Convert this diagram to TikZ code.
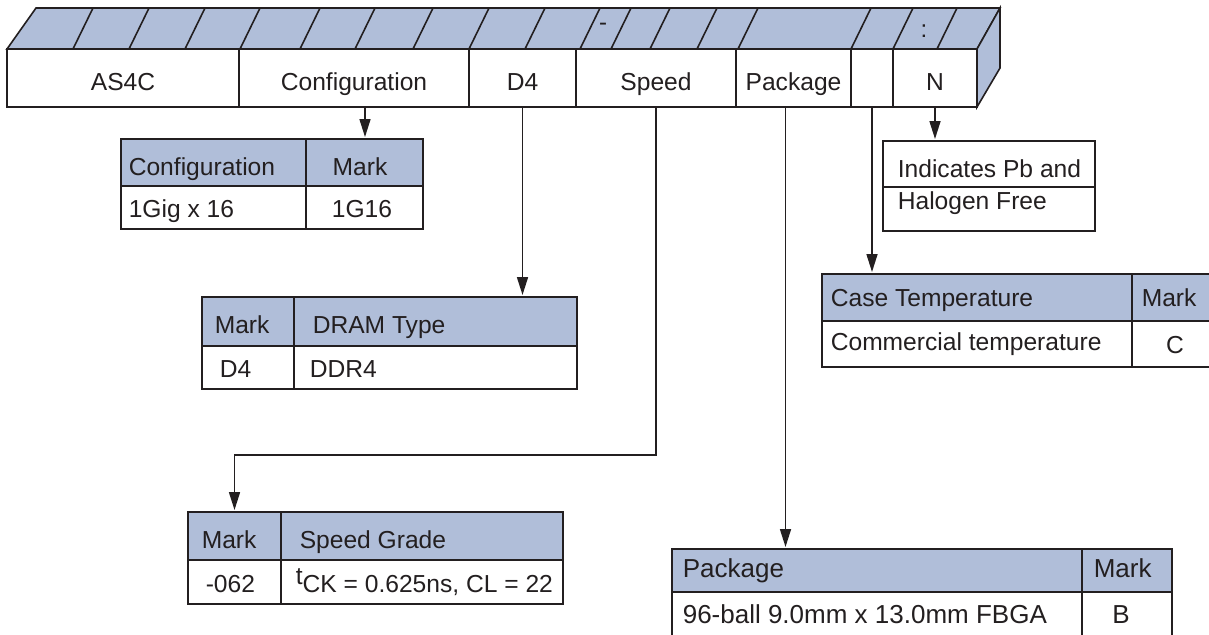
\documentclass[tikz,border=0pt]{standalone}
\usepackage{fontspec}
\setmainfont{Liberation Sans}
\usetikzlibrary{positioning,arrows.meta}
\definecolor{hdblue}{RGB}{176,190,217}
\definecolor{ink}{RGB}{35,31,32}

\begin{document}
\begin{tikzpicture}[x=0.5pt, y=-0.5pt, line width=0.8pt, color=ink,
  cell/.style = {draw, fill=white, outer sep=0pt, inner sep=0pt, anchor=north west},
  hcell/.style = {cell, fill=hdblue},
  bcell/.style = {draw, fill=white, outer sep=0pt, inner sep=0pt, minimum height=29pt,
                  text height=12pt, text depth=0pt, font=\fontsize{12.3}{14}\selectfont},
  txt/.style = {anchor=base west, inner sep=0pt, font=\fontsize{12.3}{14}\selectfont},
  ctxt/.style = {txt, anchor=base},
  bigtxt/.style = {txt, font=\fontsize{13}{15}\selectfont},
  arr/.style = {-{Triangle[length=9pt,width=5.5pt]}, shorten >=1pt}]
\useasboundingbox (0,0) rectangle (1209,634);
\clip (0,0) rectangle (1209,634);

% part number bar
\node[bcell, minimum width=116pt, anchor=north west] (as4c) at (7,49) {AS4C};
\node[bcell, minimum width=115pt, right=0pt of as4c] (conf) {Configuration};
\node[bcell, minimum width=53.5pt, right=0pt of conf] (dram) {D4};
\node[bcell, minimum width=80pt, right=0pt of dram] (speed) {Speed};
\node[bcell, minimum width=57.5pt, right=0pt of speed] (pkg) {Package};
\node[bcell, minimum width=21pt, right=0pt of pkg] (temp) {};
\node[bcell, minimum width=42pt, right=0pt of temp] (hf) {N};
\draw[fill=hdblue] (as4c.north west) -- (36,8) -- (1000,8) -- (hf.north east) -- cycle;
\draw[fill=hdblue] (hf.north east) -- (1000,8) -- (1000,68) -- (hf.south east) -- cycle;
\foreach \x in {73,129,185,240,300,355,413,469,525,580,611,650,697,738,851,893,937}
  \draw (\x,49) -- ++(20,-41);
\node[font=\fontsize{12}{14}\selectfont, inner sep=0pt] (dash) at (603,27) {-};
\node[font=\fontsize{12}{14}\selectfont, inner sep=0pt] (colon) at (924,31) {:};

% configuration table
\node[hcell, minimum width=92.5pt, minimum height=23.5pt] (cfgA) at (121,139) {};
\node[hcell, minimum width=58.5pt, minimum height=23.5pt, right=0pt of cfgA] (cfgB) {};
\node[cell, minimum width=92.5pt, minimum height=21.5pt, below=0pt of cfgA] (cfgC) {};
\node[cell, minimum width=58.5pt, minimum height=21.5pt, right=0pt of cfgC] (cfgD) {};
\node[txt] (cfgAt) at (128,175) {Configuration};
\node[ctxt] (cfgBt) at (360,175) {Mark};
\node[txt] (cfgCt) at (128,217) {1Gig x 16};
\node[ctxt] (cfgDt) at (362,217) {1G16};

% dram table
\node[hcell, minimum width=46pt, minimum height=24.5pt] (dramA) at (202,297) {};
\node[hcell, minimum width=141.5pt, minimum height=24.5pt, right=0pt of dramA] (dramB) {};
\node[cell, minimum width=46pt, minimum height=21.5pt, below=0pt of dramA] (dramC) {};
\node[cell, minimum width=141.5pt, minimum height=21.5pt, right=0pt of dramC] (dramD) {};
\node[txt] (dramAt) at (214,333) {Mark};
\node[txt] (dramBt) at (312,333) {DRAM Type};
\node[txt] (dramCt) at (219,377) {D4};
\node[txt] (dramDt) at (309,377) {DDR4};

% speed table
\node[hcell, minimum width=46.5pt, minimum height=24pt] (spdA) at (188,512) {};
\node[hcell, minimum width=141pt, minimum height=24pt, right=0pt of spdA] (spdB) {};
\node[cell, minimum width=46.5pt, minimum height=22pt, below=0pt of spdA] (spdC) {};
\node[cell, minimum width=141pt, minimum height=22pt, right=0pt of spdC] (spdD) {};
\node[txt] (spdAt) at (201,548) {Mark};
\node[txt] (spdBt) at (299,548) {Speed Grade};
\node[txt] (spdCt) at (205,592) {-062};
\node[txt] (spdDt) at (295,592) {\raisebox{4pt}{t}CK = 0.625ns, CL = 22};

% pb / halogen box
\node[cell, minimum width=106pt, minimum height=23pt] (pbA) at (883,141) {};
\node[cell, minimum width=106pt, minimum height=22pt, below=0pt of pbA] (pbB) {};
\draw[line width=1.1pt] (pbA.north west) rectangle (pbB.south east);
\node[txt] (pbAt) at (897,177) {Indicates Pb and};
\node[txt] (pbBt) at (897,209) {Halogen Free};

% case temperature table
\node[hcell, minimum width=155pt, minimum height=23.5pt] (caseA) at (822,274) {};
\node[hcell, minimum width=43pt, minimum height=23.5pt, right=0pt of caseA] (caseB) {};
\node[cell, minimum width=155pt, minimum height=23pt, below=0pt of caseA] (caseC) {};
\node[cell, minimum width=43pt, minimum height=23pt, right=0pt of caseC] (caseD) {};
\node[txt] (caseAt) at (830,306) {Case Temperature};
\node[txt] (caseBt) at (1141,306) {Mark};
\node[txt] (caseCt) at (830,350) {Commercial temperature};
\node[ctxt] (caseDt) at (1175,353) {C};

% package table
\node[hcell, minimum width=205pt, minimum height=21.5pt] (pkA) at (672,549) {};
\node[hcell, minimum width=45pt, minimum height=21.5pt, right=0pt of pkA] (pkB) {};
\node[cell, minimum width=205pt, minimum height=24pt, below=0pt of pkA] (pkC) {};
\node[cell, minimum width=45pt, minimum height=24pt, right=0pt of pkC] (pkD) {};
\node[bigtxt] (pkAt) at (682,577) {Package};
\node[bigtxt] (pkBt) at (1093,577) {Mark};
\node[bigtxt] (pkCt) at (682,623) {96-ball 9.0mm x 13.0mm FBGA};
\node[bigtxt, anchor=base] (pkDt) at (1121,623) {B};

% arrows
\draw[arr] ([xshift=5.5pt]conf.south) -- ([xshift=5.5pt]conf.south |- cfgB.north);
\draw[arr] (dram.south) -- (dram.south |- dramB.north);
\draw[arr] (speed.south) -- ++(0,348) -| (spdA.north);
\draw[arr] ([xshift=-4pt]pkg.south) -- ([xshift=-4pt]pkg.south |- pkA.north);
\draw[arr] (temp.south) -- (temp.south |- caseA.north);
\draw[arr] (hf.south) -- (hf.south |- pbA.north);
\end{tikzpicture}
\end{document}
